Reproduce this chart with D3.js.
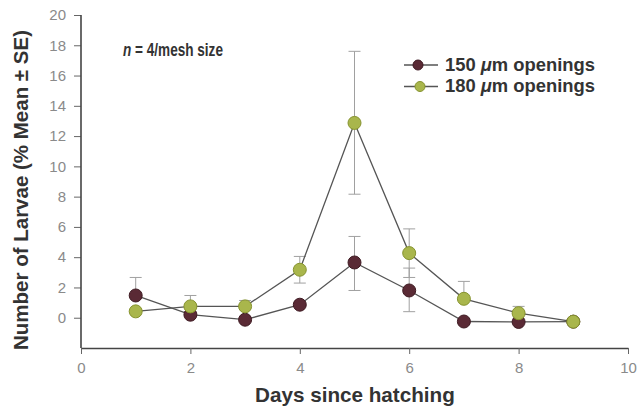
<!DOCTYPE html>
<html><head><meta charset="utf-8">
<script src="https://cdn.jsdelivr.net/npm/d3@7"></script>
<style>body{margin:0;background:#fff;}svg{display:block;}</style>
</head><body>
<svg id="c" width="637" height="408"></svg>
<script>
const days = [1,2,3,4,5,6,7,8,9];
const xTicks = [0,2,4,6,8,10];
const yTicks = [0,2,4,6,8,10,12,14,16,18,20];
const s150 = [1.47,0.2,-0.13,0.86,3.65,1.8,-0.25,-0.28,-0.26];
const s150Hi = [2.66,null,null,null,5.37,3.28,null,null,null];
const s150Lo = [null,null,null,null,1.8,0.4,null,null,null];
const s180 = [0.42,0.75,0.75,3.17,12.87,4.27,1.25,0.3,-0.26];
const s180Hi = [null,1.47,1.14,4.05,17.6,5.87,2.4,0.75,null];
const s180Lo = [null,null,null,2.29,8.16,2.66,null,null,null];
const seriesNames = ["150 \u03bcm openings","180 \u03bcm openings"];

const svg = d3.select("#c");
const x = d3.scaleLinear().domain([0,10]).range([81,628]);
const y = d3.scaleLinear().domain([-2,20]).range([348,15]);
const font = "'Liberation Sans',Arial,sans-serif";

function fitWidth(sel, w){
  const n = sel.node(); const bb = n.getBBox();
  const k = w / bb.width;
  const ax = bb.x;
  sel.attr("transform", `translate(${ax},0) scale(${k},1) translate(${-ax},0)`);
}
function fitRot(sel, cx, cy, len){
  const n = sel.node(); const bb = n.getBBox();
  const k = len / bb.width;
  sel.attr("transform", `translate(${cx},${cy}) rotate(-90) scale(${k},1)`);
}

// axes
const ya = svg.append("g").attr("transform","translate(81,0)")
  .call(d3.axisLeft(y).tickValues(yTicks).tickSize(7).tickSizeOuter(0).tickPadding(8));
ya.select(".domain").remove();
ya.append("line").attr("x1",0).attr("x2",0).attr("y1",y(20)).attr("y2",y(-2)).attr("stroke","#444").attr("stroke-width",1.6);
ya.selectAll(".tick line").attr("stroke","#666");
ya.selectAll(".tick text").attr("fill","#8a8a8a").style("font-family",font).style("font-size","15px");

const xa = svg.append("g").attr("transform","translate(0,348)")
  .call(d3.axisBottom(x).tickValues(xTicks).tickSize(6).tickSizeOuter(0).tickPadding(8));
xa.select(".domain").attr("stroke","#444").attr("stroke-width",1.6);
xa.selectAll(".tick line").attr("stroke","#666");
xa.selectAll(".tick text").attr("fill","#8a8a8a").style("font-family",font).style("font-size","15px");

// titles
const xt = svg.append("text").attr("x",255).attr("y",402)
  .style("font-family",font).style("font-weight","bold").style("font-size","21px").attr("fill","#333")
  .text("Days since hatching");
fitWidth(xt, 200);
const yt = svg.append("text").attr("x",0).attr("y",0).attr("text-anchor","middle")
  .style("font-family",font).style("font-weight","bold").style("font-size","21px").attr("fill","#333")
  .text("Number of Larvae (% Mean \u00b1 SE)");
fitRot(yt, 28, 190, 320);

// annotation
const ann = svg.append("text").attr("x",123).attr("y",56)
  .style("font-family",font).style("font-weight","bold").style("font-size","18.5px").attr("fill","#333");
ann.append("tspan").style("font-style","italic").text("n");
ann.append("tspan").text(" = 4/mesh size");
fitWidth(ann, 100);

const series = [
  {vals:s180, hi:s180Hi, lo:s180Lo, fill:"#a9b64c", stroke:"#86932e"},
  {vals:s150, hi:s150Hi, lo:s150Lo, fill:"#5a2a35", stroke:"#3e1a22"}
];

// error bars
series.forEach(s=>{
  const g = svg.append("g").attr("stroke","#a0a0a0").attr("stroke-width",1);
  days.forEach((d,i)=>{
    [s.hi[i], s.lo[i]].forEach(b=>{
      if(b===null) return;
      g.append("line").attr("x1",x(d)).attr("x2",x(d)).attr("y1",y(s.vals[i])).attr("y2",y(b));
      g.append("line").attr("x1",x(d)-6).attr("x2",x(d)+6).attr("y1",y(b)).attr("y2",y(b));
    });
  });
});

// lines
const line = d3.line().x((v,i)=>x(days[i])).y(v=>y(v));
series.forEach(s=>{
  svg.append("path").attr("d",line(s.vals)).attr("fill","none").attr("stroke","#555").attr("stroke-width",1.3);
});
// markers (150 first, 180 on top)
[series[1],series[0]].forEach(s=>{
  svg.append("g").selectAll("circle").data(s.vals).join("circle")
    .attr("cx",(v,i)=>x(days[i])).attr("cy",v=>y(v)).attr("r",6.5)
    .attr("fill",s.fill).attr("stroke",s.stroke).attr("stroke-width",1);
});

// legend
const leg = svg.append("g");
[series[1],series[0]].forEach((s,i)=>{
  const yy = 65 + i*21.5;
  leg.append("line").attr("x1",404).attr("x2",438).attr("y1",yy).attr("y2",yy).attr("stroke","#555").attr("stroke-width",1.3);
  leg.append("circle").attr("cx",418+i*2).attr("cy",yy).attr("r",5).attr("fill",s.fill).attr("stroke",s.stroke);
  const t = leg.append("text").attr("x",445).attr("y",yy+6)
    .style("font-family",font).style("font-weight","bold").style("font-size","19px").attr("fill","#333");
  const parts = seriesNames[i].split("\u03bc");
  t.append("tspan").text(parts[0]);
  t.append("tspan").style("font-style","italic").text("\u03bc");
  t.append("tspan").text(parts[1]);
  fitWidth(t, 150);
});
</script>
</body></html>
